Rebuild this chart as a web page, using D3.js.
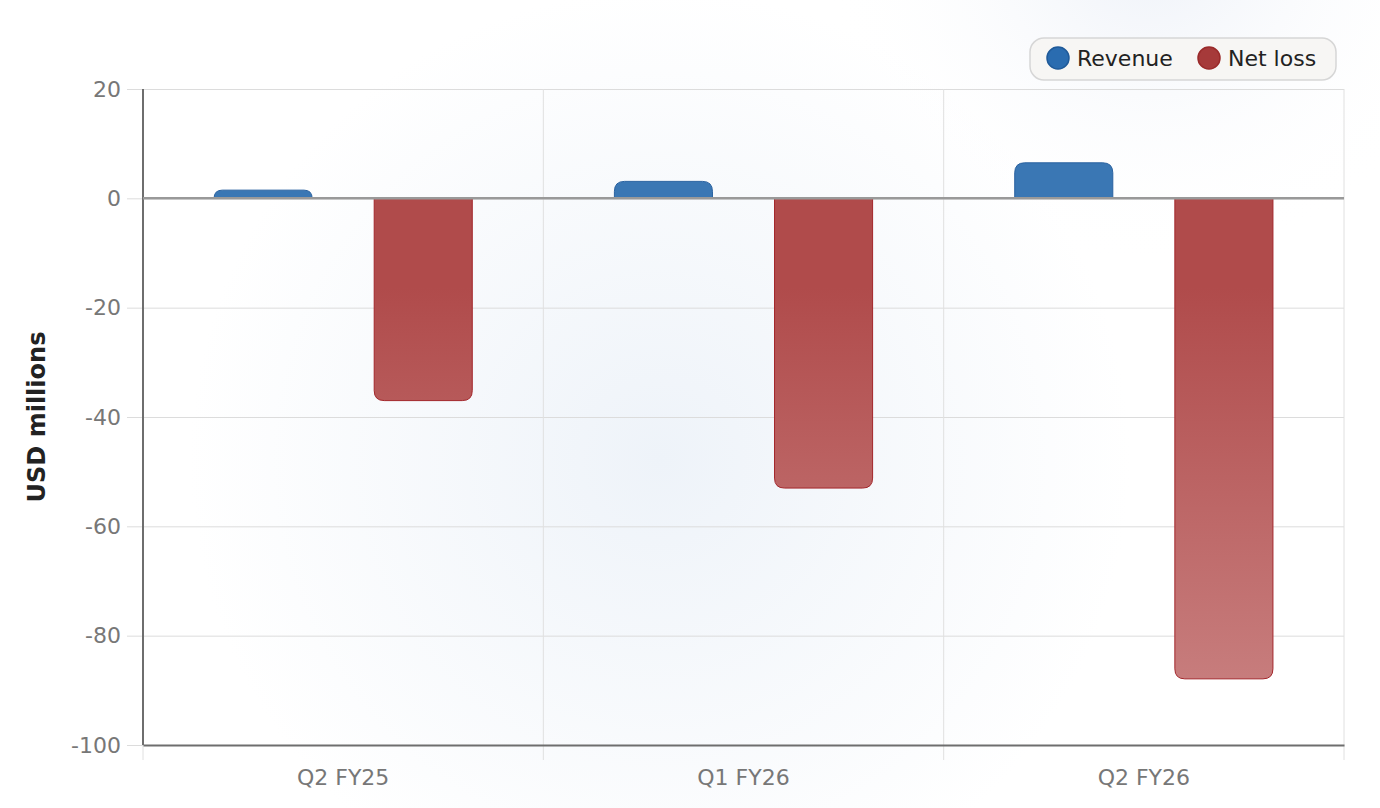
<!DOCTYPE html>
<html>
<head>
<meta charset="utf-8">
<script src="https://cdn.jsdelivr.net/npm/d3@7"></script>
<style>
  html, body { margin: 0; padding: 0; background: #fff; }
  #container { width: 1380px; height: 808px; }
  text { font-family: "DejaVu Sans", sans-serif; }
</style>
</head>
<body>
<div id="container"></div>
<script>
const quarters = ["Q2 FY25", "Q1 FY26", "Q2 FY26"];
const seriesNames = ["Revenue", "Net loss"];
const revenue = [1.5, 3.1, 6.5];
const netLoss = [-37.0, -53.0, -87.9];
const yTicks = [20, 0, -20, -40, -60, -80, -100];

const width = 1380, height = 808;
const margin = { top: 89, right: 36, bottom: 63, left: 143 };
const innerW = width - margin.left - margin.right;
const innerH = height - margin.top - margin.bottom;

const svg = d3.select("#container").append("svg")
  .attr("width", width)
  .attr("height", height);

const defs = svg.append("defs");

// faint blue glow in the background
const glow = defs.append("radialGradient").attr("id", "glow")
  .attr("gradientUnits", "userSpaceOnUse")
  .attr("cx", 660).attr("cy", 460).attr("r", 470);
glow.append("stop").attr("offset", "0%").attr("stop-color", "#eef3f9");
glow.append("stop").attr("offset", "100%").attr("stop-color", "#ffffff");

const glow2 = defs.append("radialGradient").attr("id", "glow2")
  .attr("gradientUnits", "userSpaceOnUse")
  .attr("cx", 1150).attr("cy", -60).attr("r", 330);
glow2.append("stop").attr("offset", "0%").attr("stop-color", "#edf1f8").attr("stop-opacity", 1);
glow2.append("stop").attr("offset", "100%").attr("stop-color", "#ffffff").attr("stop-opacity", 0);

svg.append("rect").attr("width", width).attr("height", height).attr("fill", "url(#glow)");
svg.append("rect").attr("width", width).attr("height", height).attr("fill", "url(#glow2)");

const g = svg.append("g")
  .attr("transform", "translate(" + margin.left + "," + margin.top + ")");

const x = d3.scaleBand().domain(quarters).range([0, innerW]).paddingInner(0).paddingOuter(0);
const xs = d3.scaleBand().domain(seriesNames).range([0, x.bandwidth()])
  .paddingInner(0.3875).paddingOuter(0.44375);
const y = d3.scaleLinear().domain([-100, 20]).range([innerH, 0]);

// red gradient runs along the whole negative range
const redGrad = defs.append("linearGradient").attr("id", "redGrad")
  .attr("gradientUnits", "userSpaceOnUse")
  .attr("x1", 0).attr("x2", 0)
  .attr("y1", margin.top + y(0)).attr("y2", margin.top + y(-100));
redGrad.append("stop").attr("offset", "0%").attr("stop-color", "#b04b4b");
redGrad.append("stop").attr("offset", "100%").attr("stop-color", "#d09090");

// horizontal grid
g.append("g")
  .call(d3.axisLeft(y).tickValues(yTicks).tickSize(-innerW).tickPadding(22).tickFormat(d => String(d)))
  .call(gg => gg.select(".domain").remove())
  .call(gg => gg.selectAll(".tick line").attr("stroke", "#dcdcdc").attr("stroke-width", 1).attr("x1", -16))
  .call(gg => gg.selectAll(".tick text").attr("fill", "#777").attr("font-size", 22)
    .style("font-family", "DejaVu Sans, sans-serif"));

// vertical grid at band edges
const edges = quarters.map(q => x(q)).concat([innerW]);
g.append("g").selectAll("line").data(edges).join("line")
  .attr("x1", d => d).attr("x2", d => d)
  .attr("y1", 0).attr("y2", innerH + 15)
  .attr("stroke", "#e0e0e0").attr("stroke-width", 1);

// x axis
g.append("g")
  .attr("transform", "translate(0," + innerH + ")")
  .call(d3.axisBottom(x).tickSize(0).tickPadding(24))
  .call(gg => gg.select(".domain").attr("stroke", "#6e6e6e").attr("stroke-width", 2))
  .call(gg => gg.selectAll(".tick text").attr("fill", "#777").attr("font-size", 22)
    .style("font-family", "DejaVu Sans, sans-serif"));

// y axis line
g.append("line")
  .attr("x1", 0).attr("x2", 0).attr("y1", 0).attr("y2", innerH)
  .attr("stroke", "#6e6e6e").attr("stroke-width", 2);

// bar path with the far end rounded
function barPath(x0, w, v) {
  const y0 = y(0), y1 = y(v);
  const h = Math.abs(y1 - y0);
  const r = Math.min(10, h, w / 2);
  if (v >= 0) {
    return `M${x0},${y0}V${y1 + r}Q${x0},${y1} ${x0 + r},${y1}H${x0 + w - r}Q${x0 + w},${y1} ${x0 + w},${y1 + r}V${y0}Z`;
  }
  return `M${x0},${y0}V${y1 - r}Q${x0},${y1} ${x0 + r},${y1}H${x0 + w - r}Q${x0 + w},${y1} ${x0 + w},${y1 - r}V${y0}Z`;
}

const bars = g.append("g");
bars.selectAll(".rev").data(quarters).join("path")
  .attr("class", "rev")
  .attr("d", (q, i) => barPath(x(q) + xs("Revenue"), xs.bandwidth(), revenue[i]))
  .attr("fill", "#3a77b4").attr("stroke", "#2a62a0").attr("stroke-width", 1);

bars.selectAll(".loss").data(quarters).join("path")
  .attr("class", "loss")
  .attr("d", (q, i) => barPath(x(q) + xs("Net loss"), xs.bandwidth(), netLoss[i]))
  .attr("fill", "url(#redGrad)").attr("stroke", "#a3262b").attr("stroke-width", 1);

// zero line
g.append("line")
  .attr("x1", 0).attr("x2", innerW).attr("y1", y(0)).attr("y2", y(0))
  .attr("stroke", "#999").attr("stroke-width", 2.5);

// y axis title
svg.append("text")
  .attr("transform", "translate(45," + (margin.top + innerH / 2) + ") rotate(-90)")
  .attr("text-anchor", "middle")
  .attr("font-size", 24).attr("font-weight", "bold").attr("fill", "#222")
  .text("USD millions");

// legend
const legend = svg.append("g").attr("transform", "translate(1030,38)");
legend.append("rect")
  .attr("width", 306).attr("height", 42).attr("rx", 14)
  .attr("fill", "#f7f6f4").attr("stroke", "#d6d6d6").attr("stroke-width", 1.5);
const legendColors = ["#2a6cb0", "#a63a3a"];
const legendStroke = ["#1f5a99", "#9a2a2a"];
const legendX = [28, 179];
const items = legend.selectAll(".item").data(seriesNames).join("g")
  .attr("transform", (d, i) => "translate(" + legendX[i] + ",20)");
items.append("circle").attr("r", 11)
  .attr("fill", (d, i) => legendColors[i]).attr("stroke", (d, i) => legendStroke[i]).attr("stroke-width", 1.5);
items.append("text").attr("x", 19).attr("dy", "0.35em")
  .attr("font-size", 22).attr("fill", "#222")
  .text(d => d);
</script>
</body>
</html>
